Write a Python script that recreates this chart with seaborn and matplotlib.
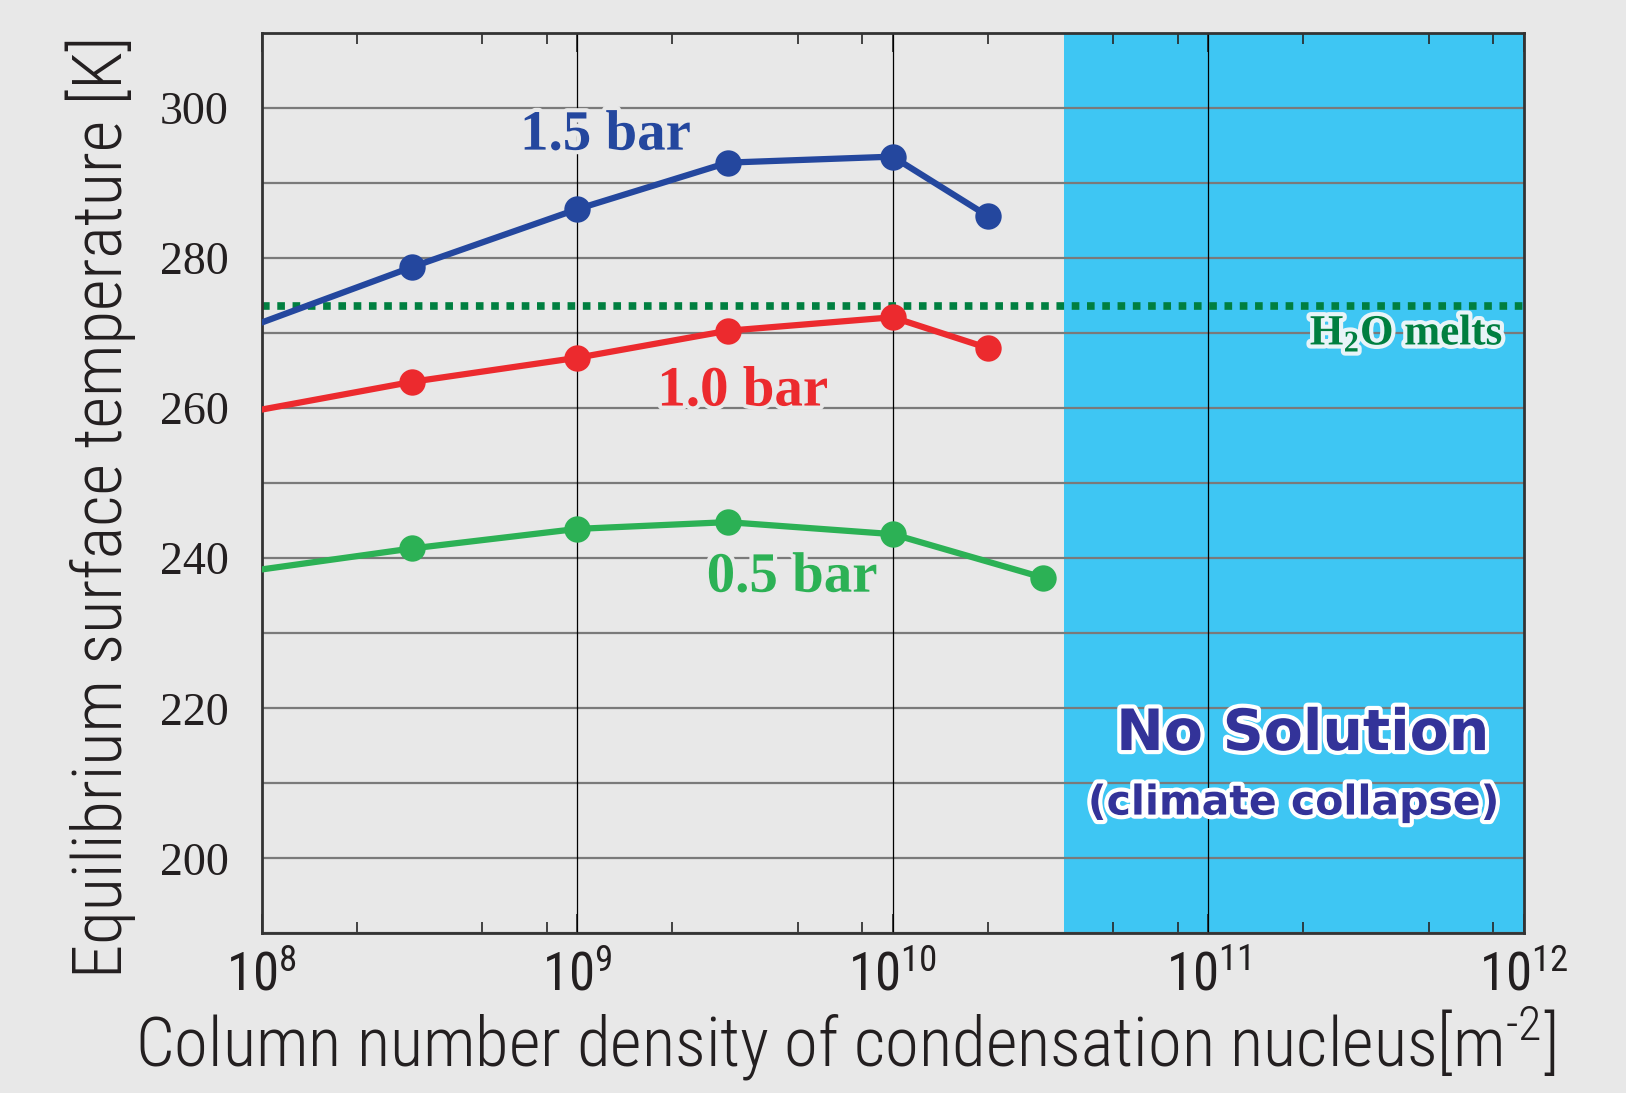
import matplotlib
matplotlib.use("Agg")
import matplotlib.pyplot as plt
import matplotlib.patheffects as pe
import numpy as np
import pandas as pd
import seaborn as sns

# --- Data ---
nuclei = [1e8, 3e8, 1e9, 3e9, 1e10, 2e10]
temp_15bar = [271.4, 278.8, 286.5, 292.7, 293.5, 285.6]
temp_10bar = [259.8, 263.5, 266.7, 270.3, 272.1, 268.0]
nuclei_05 = [1e8, 3e8, 1e9, 3e9, 1e10, 3e10]
temp_05bar = [238.5, 241.3, 243.9, 244.8, 243.2, 237.4]
h2o_melt = 273.6
collapse_start = 3.5e10
x_ticks = [1e8, 1e9, 1e10, 1e11, 1e12]
y_ticks = [200, 220, 240, 260, 280, 300]

BG = "#E8E8E8"
BLUE = "#24479E"
RED = "#EC2A2E"
GREEN = "#2CB155"
DARKGREEN = "#007F40"
CYAN = "#3EC6F3"
NAVY = "#333399"
INK = "#231f20"

sns.set_theme(style="white")
plt.rcParams["font.family"] = ["Roboto Condensed", "Roboto", "DejaVu Sans"]
plt.rcParams["mathtext.fontset"] = "custom"
plt.rcParams["mathtext.rm"] = "Roboto Condensed:light"

fig = plt.figure(figsize=(16.26, 10.93), dpi=100, facecolor=BG)
ax = fig.add_axes([0.161, 0.146, 0.776, 0.824])
ax.set_facecolor(BG)

ax.set_xscale("log")
ax.set_xlim(1e8, 1e12)
ax.set_ylim(190, 310)

# no-solution region
ax.axvspan(collapse_start, 1e12, color=CYAN, zorder=0, lw=0)

# grid
for y in range(190, 311, 10):
    ax.axhline(y, color="#7a7a7a", lw=1.6, zorder=1)
for x in x_ticks[1:-1]:
    ax.axvline(x, color="black", lw=0.9, zorder=1)

ax.axhline(h2o_melt, color=DARKGREEN, lw=5.5, ls=(0, (1.0, 1.0)), zorder=2)

series = [
    (nuclei, temp_15bar, BLUE),
    (nuclei, temp_10bar, RED),
    (nuclei_05, temp_05bar, GREEN),
]
for xs, ys, c in series:
    df = pd.DataFrame({"x": xs, "y": ys})
    sns.lineplot(data=df, x="x", y="y", ax=ax, color=c, lw=4.5, marker="o",
                 markersize=19, markeredgewidth=0, markevery=slice(1, None),
                 zorder=3)

ax.set_xticks(x_ticks)
ax.set_xticklabels([r"$\mathregular{10^{%d}}$" % int(np.log10(v)) for v in x_ticks],
                   fontsize=38, color=INK)
ax.set_yticks(y_ticks)
ax.set_yticklabels([str(v) for v in y_ticks], fontsize=33, color=INK,
                   family="Liberation Serif")
ax.xaxis.set_minor_locator(matplotlib.ticker.LogLocator(base=10, subs=[2, 5, 8]))
ax.xaxis.set_minor_formatter(matplotlib.ticker.NullFormatter())
ax.tick_params(axis="x", which="major", direction="in", length=14, width=1.2,
               top=True, bottom=True, pad=12)
ax.tick_params(axis="x", which="minor", direction="in", length=8, width=1.2,
               top=True, bottom=True)
ax.tick_params(axis="y", which="major", direction="in", length=12, width=1.2,
               left=True, right=True, pad=24)

for s in ax.spines.values():
    s.set_color("#333333")
    s.set_linewidth(2)
    s.set_visible(True)

ax.set_xlabel(r"Column number density of condensation nucleus[m$^{\mathregular{\text{-}2}}$]",
              fontsize=49.5, color=INK, fontweight="light", labelpad=2, x=0.462)
ax.set_ylabel("Equilibrium surface temperature [K]", fontsize=49.5, fontweight="light",
              color=INK, labelpad=17, y=0.474)

halo = [pe.withStroke(linewidth=6, foreground=BG)]
ax.text(1.23e9, 296.3, "1.5 bar", color=BLUE, fontsize=41, fontweight="bold",
        family="Liberation Serif", ha="center", va="center", path_effects=halo, zorder=4)
ax.text(3.35e9, 262.2, "1.0 bar", color=RED, fontsize=41, fontweight="bold",
        family="Liberation Serif", ha="center", va="center", path_effects=halo, zorder=4)
ax.text(4.8e9, 237.4, "0.5 bar", color=GREEN, fontsize=41, fontweight="bold",
        family="Liberation Serif", ha="center", va="center", path_effects=halo, zorder=4)
ax.text(8.6e11, 269.9, r"H$_{\mathregular{2}}$O melts", color=DARKGREEN, fontsize=31,
        fontweight="bold", family="Liberation Serif", ha="right", va="center",
        path_effects=[pe.withStroke(linewidth=6, foreground="#E8F4F8")], zorder=4)

white = [pe.withStroke(linewidth=6, foreground="white")]
ax.text(2.0e11, 216.5, "No Solution", color=NAVY, fontsize=41, fontweight="bold",
        family="DejaVu Sans", ha="center", va="center", path_effects=white, zorder=4)
ax.text(1.87e11, 207.3, "(climate collapse)", color=NAVY, fontsize=29.5, fontweight="bold",
        family="DejaVu Sans", ha="center", va="center", path_effects=white, zorder=4)

fig.savefig("out.png", dpi=100, facecolor=BG)
